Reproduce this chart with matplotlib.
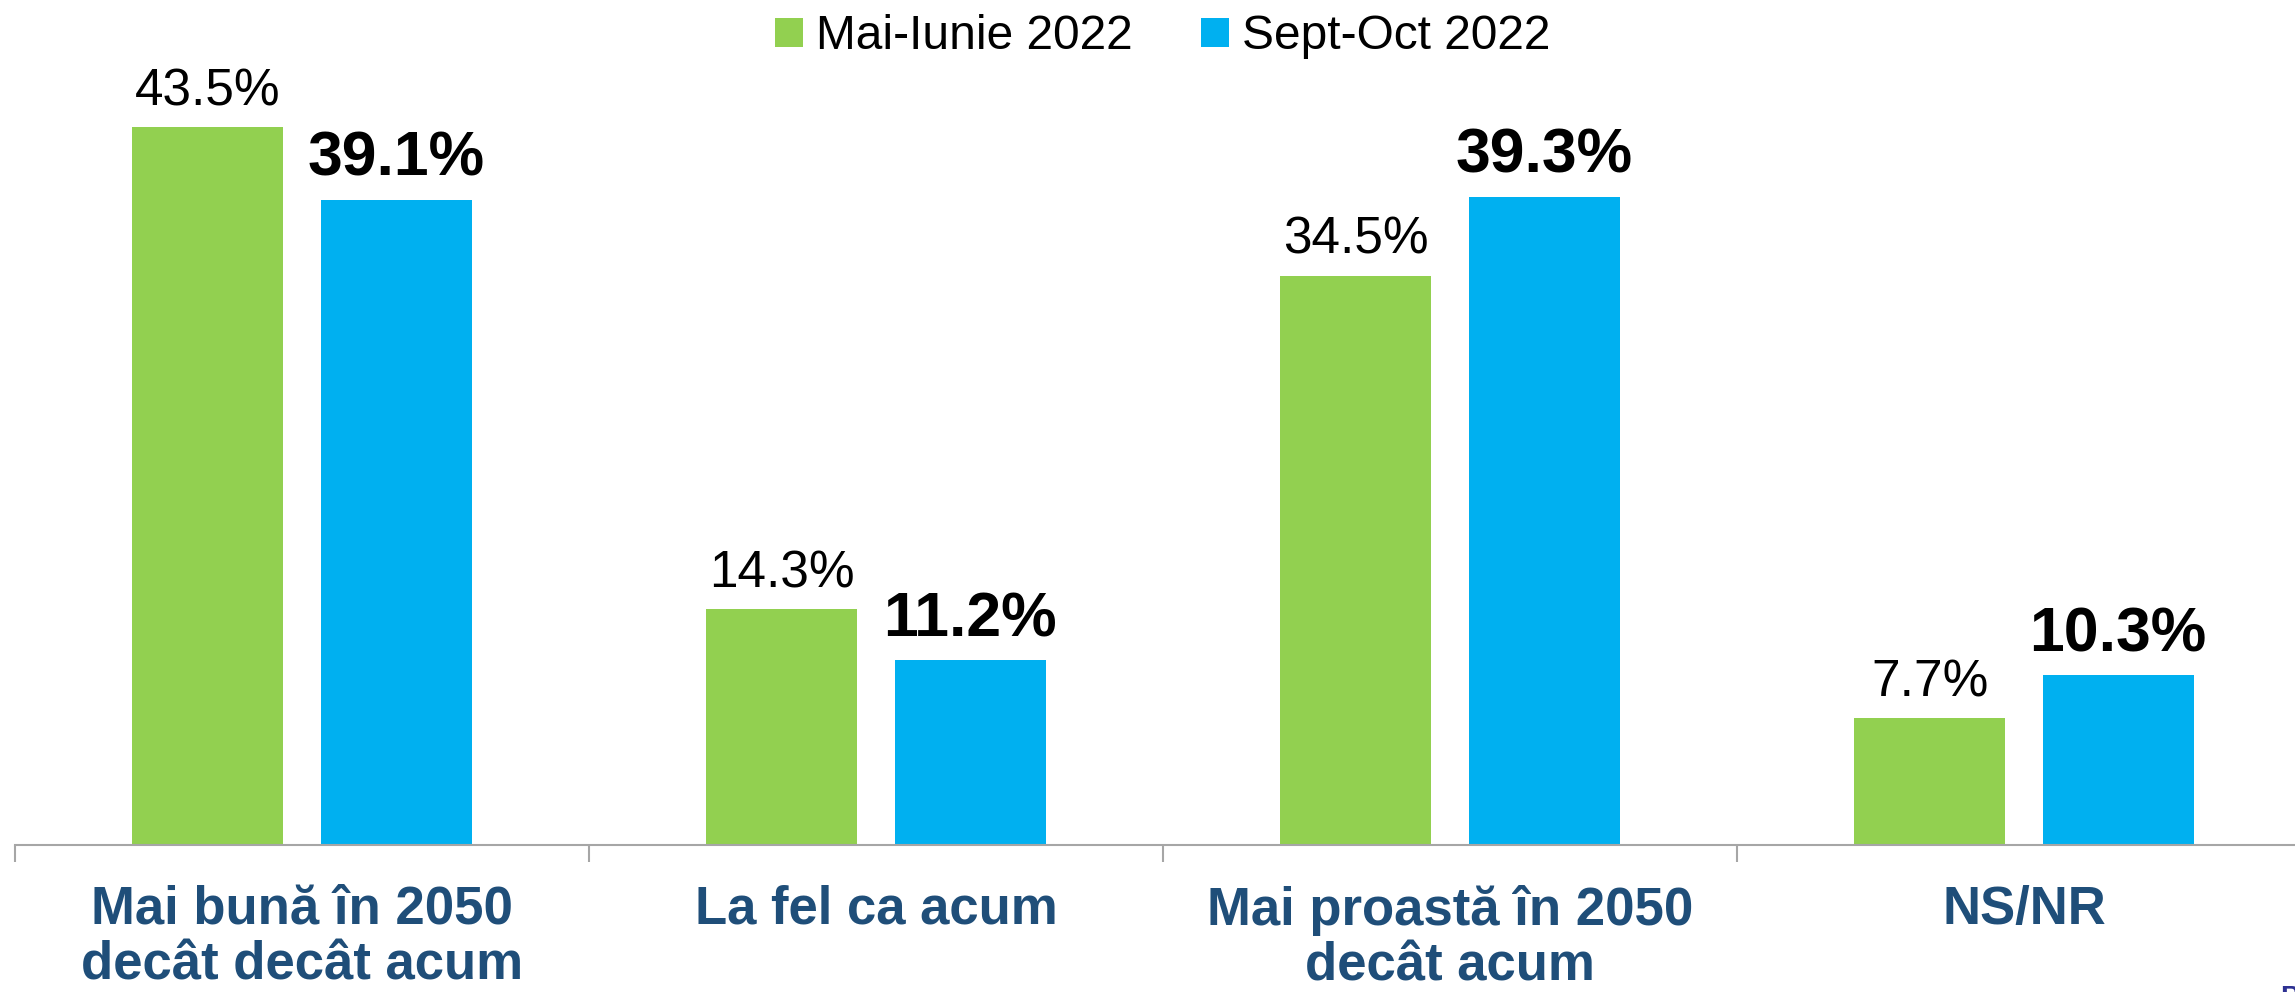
import numpy as np
import matplotlib.pyplot as plt

# chart data
categories = ['Mai bună în 2050\ndecât decât acum', 'La fel ca acum',
              'Mai proastă în 2050\ndecât acum', 'NS/NR']
series_names = ['Mai-Iunie 2022', 'Sept-Oct 2022']
mai_iunie = [43.5, 14.3, 34.5, 7.7]
sept_oct = [39.1, 11.2, 39.3, 10.3]

plt.rcParams['font.family'] = ['Liberation Sans', 'DejaVu Sans']

fig = plt.figure(figsize=(22.95, 9.92), dpi=100)
ax = fig.add_axes([15 / 2295, 147 / 992, 2296 / 2295, 825 / 992])

x = np.arange(len(categories))
w = 0.263
off = 0.164
bars1 = ax.bar(x - off, mai_iunie, w, color='#92D050', label=series_names[0])
bars2 = ax.bar(x + off, sept_oct, w, color='#00B0F0', label=series_names[1])

for rect, v in zip(bars1, mai_iunie):
    ax.annotate(f'{v:.1f}%', (rect.get_x() + rect.get_width() / 2, v),
                xytext=(0, 15.8), textcoords='offset points',
                ha='center', va='baseline', fontsize=37)
for rect, v in zip(bars2, sept_oct):
    ax.annotate(f'{v:.1f}%', (rect.get_x() + rect.get_width() / 2, v),
                xytext=(0, 17.3), textcoords='offset points',
                ha='center', va='baseline', fontsize=45, fontweight='bold')

ax.set_xlim(-0.5, 3.5)
ax.set_ylim(0, 50)
for s in ['top', 'left', 'right']:
    ax.spines[s].set_visible(False)
ax.spines['bottom'].set_color('#A6A6A6')
ax.spines['bottom'].set_linewidth(1.5)
ax.set_yticks([])

ax.set_xticks(x)
ax.set_xticklabels(categories, fontsize=38, fontweight='bold',
                   color='#1F4E79', linespacing=1.15)
ax.tick_params(axis='x', which='major', length=0, pad=28.5)
ax.set_xticks(np.arange(-0.5, 4), minor=True)
ax.tick_params(axis='x', which='minor', length=12, width=1.5,
               color='#A6A6A6', direction='out')

ax.legend(loc='center', bbox_to_anchor=(0.5067, 0.963),
          bbox_transform=fig.transFigure, ncol=2, frameon=False,
          fontsize=34.5, handlelength=0.57, handleheight=0.57,
          handletextpad=0.28, columnspacing=1.43, borderpad=0)

# cropped letter in bottom right corner
fig.text(2280 / 2295, 1 - 985 / 992, 'P', color='#2E3192', fontsize=20,
         fontweight='bold', va='top', ha='left')

fig.savefig('out.png', dpi=100)
